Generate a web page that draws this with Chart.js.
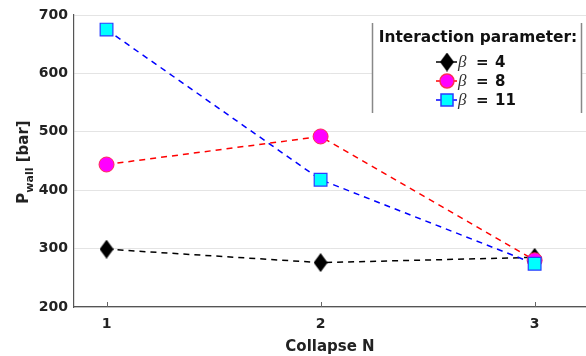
<!DOCTYPE html>
<html>
<head>
<meta charset="utf-8">
<script src="https://cdn.jsdelivr.net/npm/chart.js@4.4.1/dist/chart.umd.min.js"></script>
<style>
  html, body { margin: 0; padding: 0; background: #fff; overflow: hidden; }
  #wrap { width: 586px; height: 356px; position: relative; }
</style>
</head>
<body>
<div id="wrap"><canvas id="chart"></canvas></div>
<script>
// values
const collapseN = [1, 2, 3];
const beta4 = [299, 276, 285];
const beta8 = [444, 492, 280];
const beta11 = [675, 418, 274];
const seriesLabels = ['4', '8', '11'];
const yTicks = [200, 300, 400, 500, 600, 700];

const FONT = "'DejaVu Sans', sans-serif";

// tall diamond marker like the reference
function makeDiamond(w, h) {
    const c = document.createElement('canvas');
    c.width = w; c.height = h;
    const g = c.getContext('2d');
    g.fillStyle = '#000';
    g.beginPath();
    g.moveTo(w / 2, 0);
    g.lineTo(w, h / 2);
    g.lineTo(w / 2, h);
    g.lineTo(0, h / 2);
    g.closePath();
    g.fill();
    return c;
}
const diamond = makeDiamond(14, 19);

const toPoints = (ys) => ys.map((y, i) => ({ x: collapseN[i], y: y }));

const overlay = {
    id: 'overlay',
    afterDraw(chart) {
        const ctx = chart.ctx;
        const xs = chart.scales.x, ys = chart.scales.y;
        ctx.save();

        // small inward ticks on the x axis
        ctx.strokeStyle = '#666';
        ctx.lineWidth = 1;
        collapseN.forEach(v => {
            const px = Math.round(xs.getPixelForValue(v)) + 0.5;
            ctx.beginPath();
            ctx.moveTo(px, ys.bottom);
            ctx.lineTo(px, ys.bottom - 5);
            ctx.stroke();
        });

        // y axis title with subscript
        ctx.translate(28, 162);
        ctx.rotate(-Math.PI / 2);
        ctx.fillStyle = '#222';
        ctx.textBaseline = 'alphabetic';
        const fMain = 'bold 15px ' + FONT, fSub = 'bold 11px ' + FONT;
        ctx.font = fMain;
        const wP = ctx.measureText('P').width;
        const wRest = ctx.measureText(' [bar]').width;
        ctx.font = fSub;
        const wSub = ctx.measureText('wall').width;
        let x0 = -(wP + wSub + wRest) / 2;
        ctx.font = fMain;
        ctx.fillText('P', x0, 0);
        ctx.font = fSub;
        ctx.fillText('wall', x0 + wP, 5);
        ctx.font = fMain;
        ctx.fillText(' [bar]', x0 + wP + wSub, 0);
        ctx.restore();

        // legend box
        ctx.save();
        const bx = 372, by = 23, bw = 210, bh = 90;
        ctx.fillStyle = '#fff';
        ctx.fillRect(bx, by, bw, bh);
        ctx.strokeStyle = '#888';
        ctx.lineWidth = 1.5;
        ctx.beginPath();
        ctx.moveTo(bx + 0.5, by); ctx.lineTo(bx + 0.5, by + bh);
        ctx.moveTo(bx + bw - 0.5, by); ctx.lineTo(bx + bw - 0.5, by + bh);
        ctx.stroke();

        ctx.fillStyle = '#111';
        ctx.font = 'bold 15.4px ' + FONT;
        ctx.textAlign = 'center';
        ctx.textBaseline = 'middle';
        ctx.fillText('Interaction parameter:', bx + bw / 2 + 1, 38);

        const rowY = [62, 81, 100];
        chart.data.datasets.forEach((ds, i) => {
            const y = rowY[i];
            ctx.strokeStyle = ds.borderColor;
            ctx.lineWidth = 1.5;
            ctx.setLineDash([]);
            ctx.beginPath();
            ctx.moveTo(436, y); ctx.lineTo(457, y);
            ctx.stroke();
            // marker
            const mx = 447;
            if (ds.pointStyle === 'circle') {
                ctx.fillStyle = ds.pointBackgroundColor;
                ctx.strokeStyle = ds.pointBorderColor;
                ctx.beginPath();
                ctx.arc(mx, y, 7, 0, Math.PI * 2);
                ctx.fill(); ctx.stroke();
            } else if (ds.pointStyle === 'rect') {
                ctx.fillStyle = ds.pointBackgroundColor;
                ctx.strokeStyle = ds.pointBorderColor;
                ctx.fillRect(mx - 6, y - 6, 12, 12);
                ctx.strokeRect(mx - 6, y - 6, 12, 12);
            } else {
                ctx.drawImage(diamond, mx - 7, y - 9.5);
            }
            ctx.textAlign = 'left';
            ctx.fillStyle = '#333';
            ctx.font = "italic 17px 'Liberation Serif', serif";
            ctx.fillText('\u03b2', 458, y + 1);
            ctx.fillStyle = '#111';
            ctx.font = 'bold 15px ' + FONT;
            ctx.fillText('=', 476, y + 1);
            ctx.fillText(seriesLabels[i], 495, y + 1);
        });
        ctx.restore();
    }
};

new Chart(document.getElementById('chart'), {
    type: 'line',
    data: {
        datasets: [{
            label: '\u03b2 = ' + seriesLabels[0],
            data: toPoints(beta4),
            borderColor: '#000',
            borderDash: [6, 5],
            borderWidth: 1.5,
            pointStyle: diamond,
            order: 2
        }, {
            label: '\u03b2 = ' + seriesLabels[1],
            data: toPoints(beta8),
            borderColor: '#ff0000',
            borderDash: [6, 5],
            borderWidth: 1.5,
            pointStyle: 'circle',
            pointRadius: 7.5,
            pointBackgroundColor: '#ff00ff',
            pointBorderColor: '#ff2a55',
            pointBorderWidth: 1,
            order: 1
        }, {
            label: '\u03b2 = ' + seriesLabels[2],
            data: toPoints(beta11),
            borderColor: '#0000ff',
            borderDash: [6, 5],
            borderWidth: 1.5,
            pointStyle: 'rect',
            pointRadius: 9,
            pointBackgroundColor: '#00ffff',
            pointBorderColor: '#2a3cff',
            pointBorderWidth: 1.2,
            order: 0
        }]
    },
    options: {
        responsive: true,
        maintainAspectRatio: false,
        animation: false,
        layout: { autoPadding: false, padding: { top: 15, right: 0, left: 0, bottom: 0 } },
        plugins: {
            legend: { display: false },
            tooltip: { enabled: false }
        },
        scales: {
            x: {
                type: 'linear',
                min: 0.848,
                max: 3.24,
                afterBuildTicks: (s) => { s.ticks = collapseN.map(v => ({ value: v })); },
                afterFit: (s) => { s.height = 49; s.paddingLeft = 0; s.paddingRight = 0; },
                grid: { display: false, drawTicks: false },
                border: { color: '#555', width: 1.2 },
                ticks: {
                    padding: 9,
                    color: '#222',
                    font: { family: FONT, size: 14, weight: 'bold' }
                },
                title: {
                    display: true,
                    text: 'Collapse N',
                    color: '#222',
                    padding: { top: 2, bottom: 0 },
                    font: { family: FONT, size: 15, weight: 'bold' }
                }
            },
            y: {
                min: 200,
                max: 700,
                afterBuildTicks: (s) => { s.ticks = yTicks.map(v => ({ value: v })); },
                afterFit: (s) => { s.width = 74; s.paddingTop = 0; s.paddingBottom = 0; },
                grid: { color: '#e4e4e4', lineWidth: 1, drawTicks: false },
                border: { color: '#555', width: 1.2 },
                ticks: {
                    padding: 6,
                    color: '#222',
                    font: { family: FONT, size: 14, weight: 'bold' }
                }
            }
        }
    },
    plugins: [overlay]
});
</script>
</body>
</html>
